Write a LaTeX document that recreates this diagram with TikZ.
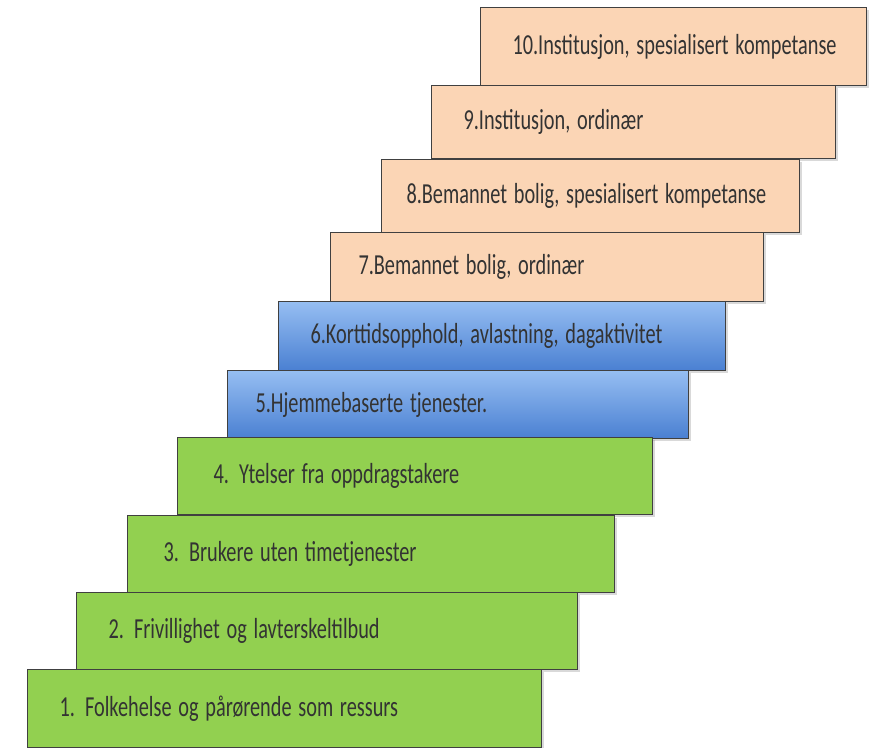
\documentclass[tikz,border=0pt]{standalone}
\usepackage{fontspec}
\usepackage{graphicx}
\setmainfont{Carlito}
\usetikzlibrary{shadows}
\definecolor{peach}{RGB}{251,213,181}
\definecolor{grass}{RGB}{146,208,80}
\definecolor{skytop}{RGB}{150,190,242}
\definecolor{skybot}{RGB}{74,128,210}
\newcommand{\steptext}[1]{\scalebox{0.70}[1]{#1}}
\begin{document}
\begin{tikzpicture}[x=1pt, y=-1pt]
  \tikzstyle{stair}=[draw=black!75, line width=1pt, anchor=north west, inner xsep=32pt, inner ysep=0pt,
    align=left, text=black!80, font=\fontsize{29}{32}\selectfont,
    drop shadow={shadow xshift=2pt, shadow yshift=-2pt, opacity=0.3}]
  \tikzstyle{peachstep}=[stair, fill=peach]
  \tikzstyle{bluestep}=[stair, top color=skytop, bottom color=skybot]
  \tikzstyle{greenstep}=[stair, fill=grass]
  \useasboundingbox (0, 0) rectangle (869, 747);

  \node[peachstep, minimum height=78pt, text width=322pt] (s10) at (480, 7) {\steptext{10.Institusjon, spesialisert kompetanse}};
  \node[peachstep, minimum height=73pt, text width=340pt] (s9) at (431, 85) {\steptext{9.Institusjon, ordinær}};
  \node[peachstep, minimum height=73pt, inner xsep=25pt, text width=368pt] (s8) at (381, 159) {\steptext{8.Bemannet bolig, spesialisert kompetanse}};
  \node[peachstep, minimum height=69pt, inner xsep=28pt, text width=377pt] (s7) at (330, 232) {\steptext{7.Bemannet bolig, ordinær}};

  \node[bluestep, minimum height=69pt, text width=383pt] (s6) at (278, 301) {\steptext{6.Korttidsopphold, avlastning, dagaktivitet}};
  \node[bluestep, minimum height=68pt, inner xsep=28pt, text width=405pt] (s5) at (227, 370) {\steptext{5.Hjemmebaserte tjenester.}};

  \node[greenstep, minimum height=77pt, inner xsep=36pt, text width=403pt] (s4) at (177, 437) {\steptext{4. Ytelser fra oppdragstakere}};
  \node[greenstep, minimum height=77pt, inner xsep=36pt, text width=415pt] (s3) at (127, 515) {\steptext{3. Brukere uten timetjenester}};
  \node[greenstep, minimum height=77pt, text width=437pt] (s2) at (76, 592) {\steptext{2. Frivillighet og lavterskeltilbud}};
  \node[greenstep, minimum height=78pt, text width=450pt] (s1) at (27, 669) {\steptext{1. Folkehelse og pårørende som ressurs}};
\end{tikzpicture}
\end{document}
